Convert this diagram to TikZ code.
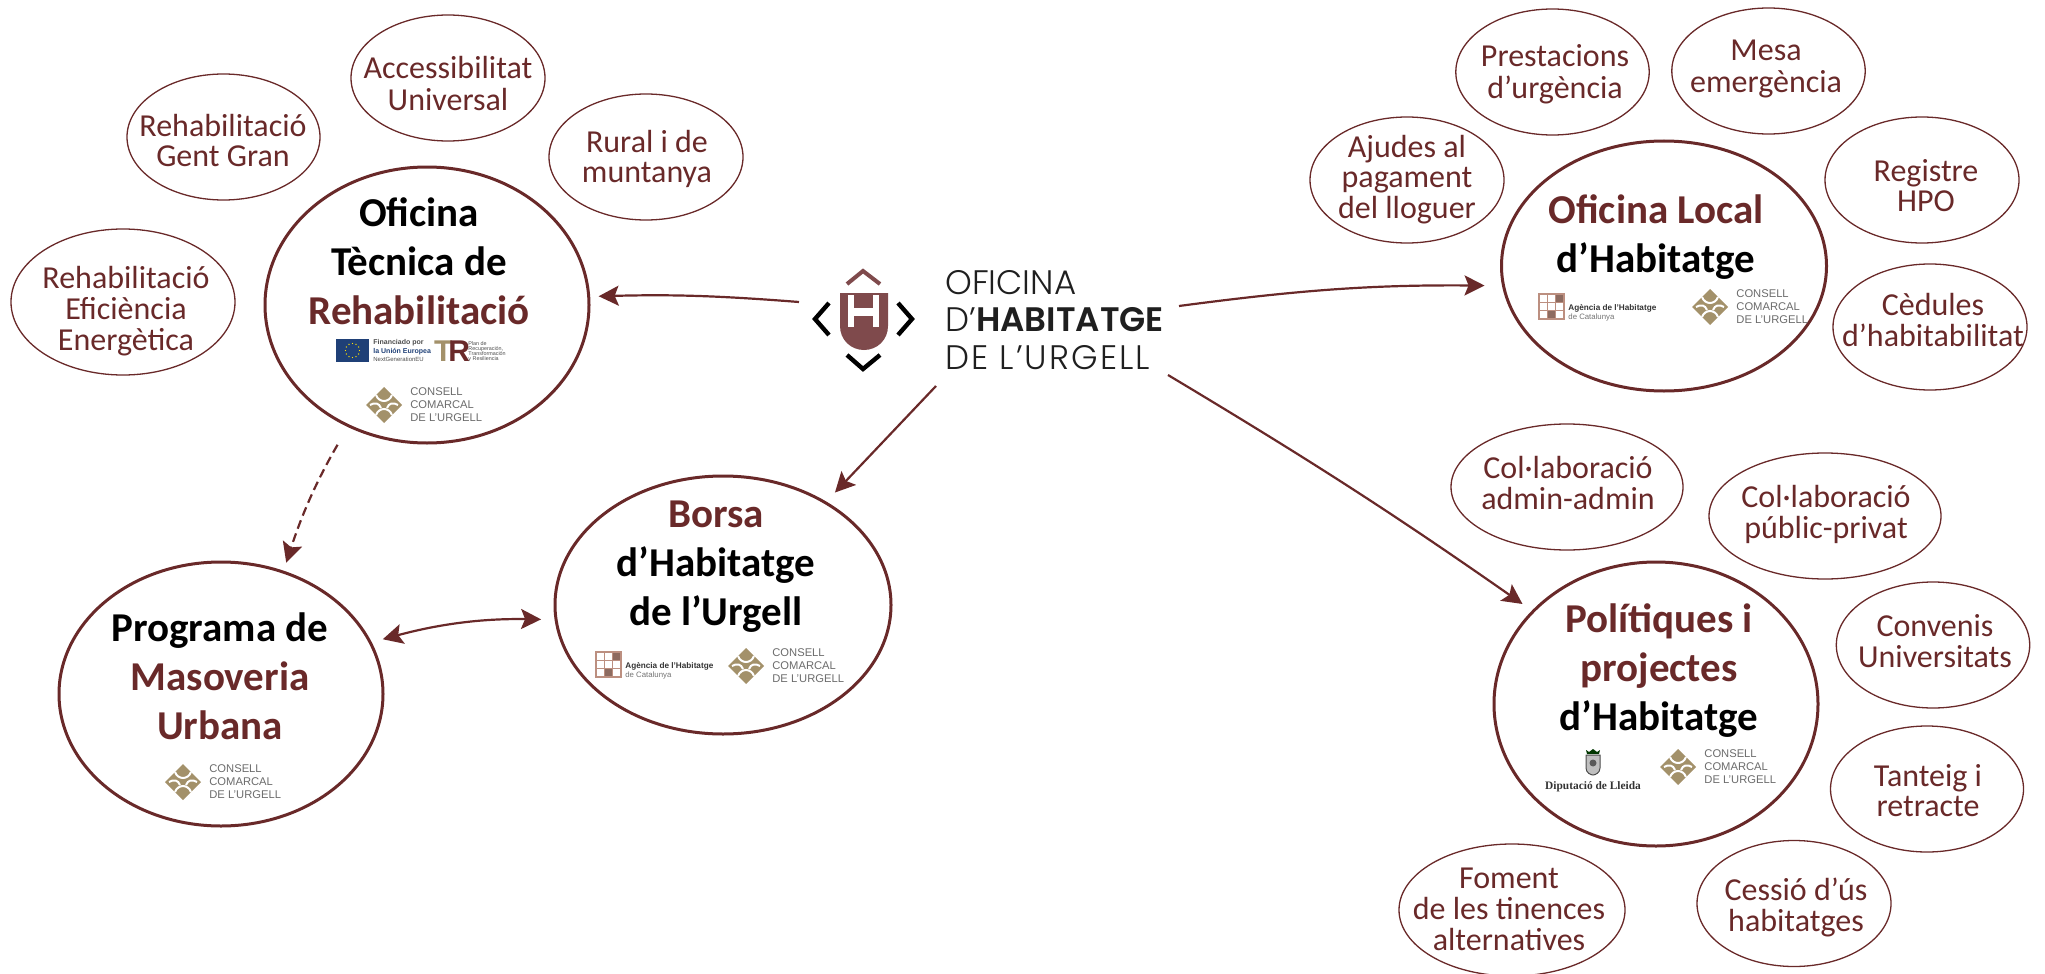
\documentclass[tikz,border=0pt]{standalone}
\usepackage{fontspec}
\setmainfont{Carlito}
\newfontfamily\logofont{Poppins Light}
\newfontfamily\logobold{Poppins SemiBold}
\newfontfamily\smallsans{Liberation Sans}
\newfontfamily\dipfont{Liberation Serif}
\usetikzlibrary{shapes.geometric,arrows.meta}
\definecolor{maroon}{HTML}{692929}
\definecolor{shield}{HTML}{7F4A4C}
\definecolor{khaki}{HTML}{A3916A}
\definecolor{agency}{HTML}{BC8F80}
\definecolor{eublue}{HTML}{1F4077}
\tikzset{
  x=.5pt,y=-.5pt,
  smell/.style={ellipse,draw=maroon,line width=.65pt,inner sep=0pt,outer sep=0pt},
  smtxt/.style={inner sep=0pt,anchor=base,text=maroon,font=\fontsize{16}{15}\selectfont},
  bigell/.style={ellipse,draw=maroon,line width=1.5pt,inner sep=0pt,outer sep=0pt},
  bigtxt/.style={inner sep=0pt,anchor=base,font=\fontsize{20.5}{24.7}\selectfont\bfseries},
  link/.style={draw=maroon,line width=1.1pt,-{Stealth[length=10pt,width=10pt,inset=2pt]}},
  twolink/.style={draw=maroon,line width=1.1pt,{Stealth[length=10pt,width=10pt,inset=2pt]}-{Stealth[length=10pt,width=10pt,inset=2pt]}},
  greytxt/.style={inner sep=0pt,anchor=west,text=black!58,font=\fontsize{5.6}{6.5}\smallsans},
  agtxt/.style={inner sep=0pt,anchor=west,font=\fontsize{4.5}{5}\smallsans},
  hubtxt/.style={inner sep=0pt,anchor=base west,text=black!88,font=\fontsize{17}{18}\logofont}
}
\newcommand{\smnode}[8]{\node[smell,minimum width=#4pt,minimum height=#5pt] (#1) at (#2,#3) {};
  \node[smtxt] (#1t) at (#6,#7) {\begin{tabular}[t]{@{}c@{}}#8\end{tabular}};}
\newcommand{\bignode}[5]{\node[bigell,minimum width=#4pt,minimum height=#5pt] (#1) at (#2,#3) {};}
\newcommand{\biglabel}[4]{\node[bigtxt] (#1) at (#2,#3) {\begin{tabular}[t]{@{}c@{}}#4\end{tabular}};}
\newcommand{\cclogo}[3]{%
 \begin{scope}[shift={(#2,#3)}]
  \fill[khaki] (0,-18) -- (18,0) -- (0,18) -- (-18,0) -- cycle;
  \draw[white,line width=1pt] (-8,-10) .. controls (-5,-2) and (5,-2) .. (8,-10);
  \draw[white,line width=1pt] (-8,10) .. controls (-5,2) and (5,2) .. (8,10);
  \draw[white,line width=1pt] (-14,0) .. controls (-9,-3) and (-5,-2) .. (-3,3);
  \draw[white,line width=1pt] (14,0) .. controls (9,-3) and (5,-2) .. (3,3);
  \node[greytxt] (#1a) at (26,-13) {CONSELL};
  \node[greytxt] (#1b) at (26,0) {COMARCAL};
  \node[greytxt] (#1c) at (26,13) {DE L’URGELL};
 \end{scope}}
\newcommand{\aglogo}[3]{%
 \begin{scope}[shift={(#2,#3)}]
  \fill[agency] (0,0) rectangle (27,27);
  \foreach \i in {0,1,2}{\foreach \j in {0,1,2}{\fill[white] (2+8.2*\i,2+8.2*\j) rectangle ++(6.6,6.6);}}
  \fill[agency!75!black] (10.2,18.4) rectangle ++(6.6,6.6);
  \fill[agency!75!black] (18.4,2) rectangle ++(6.6,6.6);
  \node[agtxt,font=\fontsize{4.1}{5}\smallsans\bfseries,text=black!80] (#1a) at (30,15) {Agència de l’Habitatge};
  \node[agtxt,font=\fontsize{3.9}{5}\smallsans,text=black!55] (#1b) at (30,24) {de Catalunya};
 \end{scope}}
\begin{document}
\begin{tikzpicture}
\useasboundingbox (0,0) rectangle (2045,974);
% small ellipses
\smnode{acc}{448}{78}{97}{63}{448}{79}{Accessibilitat\\Universal}
\smnode{ggr}{223.5}{137}{96.5}{63}{223}{136}{Rehabilitació\\Gent Gran}
\smnode{rur}{646}{157}{97}{63}{647}{153}{Rural i de\\muntanya}
\smnode{efi}{123}{302}{112}{73}{126}{288}{Rehabilitació\\Eficiència\\Energètica}
\smnode{pre}{1552.5}{72}{96.7}{63}{1555}{67}{Prestacions\\d’urgència}
\smnode{mes}{1768.5}{71}{96.7}{63}{1766}{61}{Mesa\\emergència}
\smnode{aju}{1407}{180}{97}{63}{1407}{157}{Ajudes al\\pagament\\del lloguer}
\smnode{reg}{1922}{180}{97}{63}{1926}{181}{Registre\\HPO}
\smnode{ced}{1930}{327}{97}{63}{1933}{315}{Cèdules\\d’habitabilitat}
\smnode{cad}{1567}{487}{116}{63}{1568}{478}{Col·laboració\\admin-admin}
\smnode{cpp}{1825}{516}{116}{63}{1826}{507}{Col·laboració\\públic-privat}
\smnode{con}{1933}{645}{96.7}{63}{1935}{636}{Convenis\\Universitats}
\smnode{tan}{1927}{789}{96.5}{63}{1928}{786}{Tanteig i\\retracte}
\smnode{ces}{1794}{903.5}{97}{63}{1796}{900}{Cessió d’ús\\habitatges}
\smnode{fom}{1512}{910}{113}{66}{1509}{888}{Foment\\de les tinences\\alternatives}
% large ellipses
\bignode{ot}{427}{305}{162}{138}
\bignode{ol}{1664}{266}{162.5}{125}
\bignode{bor}{723}{605}{168}{129}
\bignode{mas}{221}{694}{162}{132}
\bignode{pol}{1656}{704}{162}{142}
% large labels
\biglabel{ott}{419}{226}{Oficina\\Tècnica de\\\textcolor{maroon}{Rehabilitació}}
\biglabel{olt}{1656}{223}{\textcolor{maroon}{Oficina Local}\\d’Habitatge}
\biglabel{bort}{716}{527}{\textcolor{maroon}{Borsa}\\d’Habitatge\\de l’Urgell}
\biglabel{mast}{220}{641}{Programa de\\\textcolor{maroon}{Masoveria}\\\textcolor{maroon}{Urbana}}
\biglabel{polt}{1659}{632}{\textcolor{maroon}{Polítiques i}\\\textcolor{maroon}{projectes}\\d’Habitatge}
% logos in the large ellipses
\cclogo{ccot}{384}{405}
\cclogo{ccol}{1710}{307}
\cclogo{ccbor}{746}{666}
\cclogo{ccmas}{183}{782}
\cclogo{ccpol}{1678}{767}
\aglogo{agol}{1538}{293}
\aglogo{agbor}{595}{651}
% EU + TR logos
\fill[eublue] (336,339) rectangle (369,362);
\foreach \a in {0,30,...,330}{\fill[yellow!85!orange] ({352.5+7*cos(\a)},{350.5+7*sin(\a)}) circle (.7);}
\node[agtxt,anchor=north west,align=left,font=\fontsize{3.5}{4.3}\smallsans\bfseries,text=black!70] (eua) at (373,339) {Financiado por\\\textcolor{eublue}{la Unión Europea}\\{\fontsize{3}{4.3}\selectfont\mdseries NextGenerationEU}};
\node[inner sep=0pt,font=\fontsize{15}{15}\smallsans\bfseries] (trl) at (452,351) {\textcolor{khaki}{T}\kern-2pt\textcolor{maroon}{R}};
\node[agtxt,font=\fontsize{2.7}{3}\smallsans,text=black!70,anchor=north west,align=left] (trt) at (468,341) {Plan de\\[-.5pt]Recuperación,\\[-.5pt]Transformación\\[-.5pt]y Resiliencia};
% Diputacio logo
\fill[black!70!green!70!black] (1586,750) -- (1587,754) -- (1599,754) -- (1600,750) -- (1597,752) -- (1593,749) -- (1589,752) -- cycle;
\draw[black!70,line width=.5pt,fill=black!25] (1586,755) -- (1600,755) -- (1600,768) .. controls (1600,773) and (1595,775) .. (1593,775) .. controls (1591,775) and (1586,773) .. (1586,768) -- cycle;
\fill[black!65] (1593,763) circle (3.5);
\node[inner sep=0pt,font=\fontsize{5.7}{6}\dipfont\bfseries,text=black!80] (dip) at (1593,787) {Diputació de Lleida};
% central logo
\fill[shield] (840,293) -- (888,293) -- (888,326) .. controls (888,340) and (877,350) .. (864,350) .. controls (851,350) and (840,340) .. (840,326) -- cycle;
\fill[white] (848,295) rectangle (854,327);
\fill[white] (873,295) rectangle (879,327);
\fill[white] (854,308) rectangle (873,316);
\draw[shield,line width=2pt,line join=miter] (847,284) -- (863,271) -- (880,284);
\draw[black,line width=2.2pt] (829,303) -- (815,319) -- (829,335);
\draw[black,line width=2.2pt] (898,303) -- (912,319) -- (898,335);
\draw[black,line width=2.2pt] (847,355) -- (863,369) -- (880,355);
\node[hubtxt] (hub1) at (945,294) {OFICINA};
\node[hubtxt] (hub2) at (945,331) {D’{\logobold HABITATGE}};
\node[hubtxt] (hub3) at (945,369) {\addfontfeatures{LetterSpace=6}DE L’URGELL};
\coordinate (hw) at (799,302);
\coordinate (he) at (1179,306);
\coordinate (hs) at (936,386);
\coordinate (hse) at (1168,375);
% connectors
\draw[link,shorten >=5pt] (hw) to[bend right=3] (ot.3);
\draw[link,shorten >=9.5pt] (he) to[bend left=4] (ol.187.5);
\draw[link,shorten >=7pt] (hs) to (bor.45);
\draw[link,shorten >=6.5pt] (hse) to[bend left=2] (pol.143);
\draw[link,dashed,dash pattern=on 4.5pt off 2.5pt,shorten <=11pt,shorten >=5pt] (ot.237) to[bend right=6] (mas.63);
\draw[twolink,shorten <=6.5pt,shorten >=7.5pt] (mas.19) to[bend left=8] (bor.185);
\end{tikzpicture}
\end{document}
